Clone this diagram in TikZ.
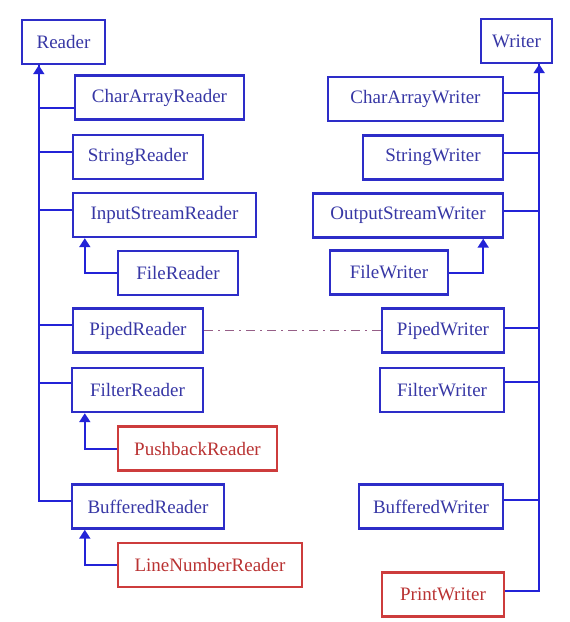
\documentclass[tikz,border=0pt]{standalone}
\usepackage{fontspec}
\setmainfont{Liberation Serif}
\usepackage{tikz}
\usetikzlibrary{arrows.meta}
\usepackage{xcolor}

\definecolor{boxblue}{RGB}{45,45,200}
\definecolor{txtblue}{RGB}{55,55,165}
\definecolor{boxred}{RGB}{205,60,60}
\definecolor{txtred}{RGB}{185,50,50}
\definecolor{lineblue}{RGB}{35,35,215}
\definecolor{pipecol}{RGB}{150,95,135}

\tikzset{
    cls/.style={draw=boxblue, text=txtblue, line width=2.4pt, minimum height=44pt, inner sep=0pt, font=\fontsize{19}{22}\selectfont},
    sub/.style={cls, draw=boxred, text=txtred},
    link/.style={draw=lineblue, line width=2pt},
    tip/.style={link, -{Triangle[width=11pt,length=9pt]}}
}

\begin{document}
\begin{tikzpicture}[x=1pt, y=-1pt]
    \useasboundingbox (0,0) rectangle (570,622);

    % readers
    \node[cls, minimum width=83pt] (reader) at (63.5,42) {Reader};
    \node[cls, minimum width=169pt] (car) at (159.5,97.5) {CharArrayReader};
    \node[cls, minimum width=130pt] (sr) at (138,157) {StringReader};
    \node[cls, minimum width=183pt] (isr) at (164.5,215) {InputStreamReader};
    \node[cls, minimum width=120pt] (fr) at (178,273) {FileReader};
    \node[cls, minimum width=130pt] (pr) at (138,330.5) {PipedReader};
    \node[cls, minimum width=131pt] (ftr) at (137.5,390) {FilterReader};
    \node[sub, minimum width=159pt] (pbr) at (197.5,448.5) {PushbackReader};
    \node[cls, minimum width=152pt] (br) at (148,506.5) {BufferedReader};
    \node[sub, minimum width=184pt] (lnr) at (210,565) {LineNumberReader};

    % writers
    \node[cls, minimum width=71pt] (writer) at (516.5,41) {Writer};
    \node[cls, minimum width=175pt] (caw) at (415.5,99) {CharArrayWriter};
    \node[cls, minimum width=140pt] (sw) at (433,157.5) {StringWriter};
    \node[cls, minimum width=190pt] (osw) at (408,215.5) {OutputStreamWriter};
    \node[cls, minimum width=118pt] (fw) at (389,272.5) {FileWriter};
    \node[cls, minimum width=122pt] (pw) at (443,330.5) {PipedWriter};
    \node[cls, minimum width=124pt] (ftw) at (442,390) {FilterWriter};
    \node[cls, minimum width=144pt] (bw) at (431,506.5) {BufferedWriter};
    \node[sub, minimum width=122pt] (prw) at (443,594.5) {PrintWriter};

    % reader tree
    \coordinate (rtop) at ([xshift=18pt]reader.south west);
    \draw[link] (rtop) |- ([yshift=-10pt]car.west);
    \draw[link] (rtop) |- ([yshift=5pt]sr.west);
    \draw[link] (rtop) |- ([yshift=5pt]isr.west);
    \draw[link] (rtop) |- ([yshift=6pt]pr.west);
    \draw[link] (rtop) |- ([yshift=7pt]ftr.west);
    \draw[link] (rtop) |- ([yshift=6pt]br.west);
    \draw[tip] ([yshift=-20pt]rtop) -- (rtop);
    \draw[tip] (fr.west) -| ([xshift=13pt]isr.south west);
    \draw[tip] (pbr.west) -| ([xshift=14pt]ftr.south west);
    \draw[tip] (lnr.west) -| ([xshift=14pt]br.south west);

    % writer tree
    \coordinate (wtop) at ([xshift=-14pt]writer.south east);
    \draw[link] (wtop) |- ([yshift=6pt]caw.east);
    \draw[link] (wtop) |- ([yshift=5pt]sw.east);
    \draw[link] (wtop) |- ([yshift=5pt]osw.east);
    \draw[link] (wtop) |- ([yshift=3pt]pw.east);
    \draw[link] (wtop) |- ([yshift=8pt]ftw.east);
    \draw[link] (wtop) |- ([yshift=7pt]bw.east);
    \draw[link] (wtop) |- ([yshift=4pt]prw.east);
    \draw[tip] ([yshift=-20pt]wtop) -- (wtop);
    \draw[tip] (fw.east) -| ([xshift=-21pt]osw.south east);

    % pipe
    \draw[pipecol, line width=1.4pt, dash pattern=on 9pt off 5pt on 2pt off 5pt] (pr.east) -- (pw.west);
\end{tikzpicture}
\end{document}
